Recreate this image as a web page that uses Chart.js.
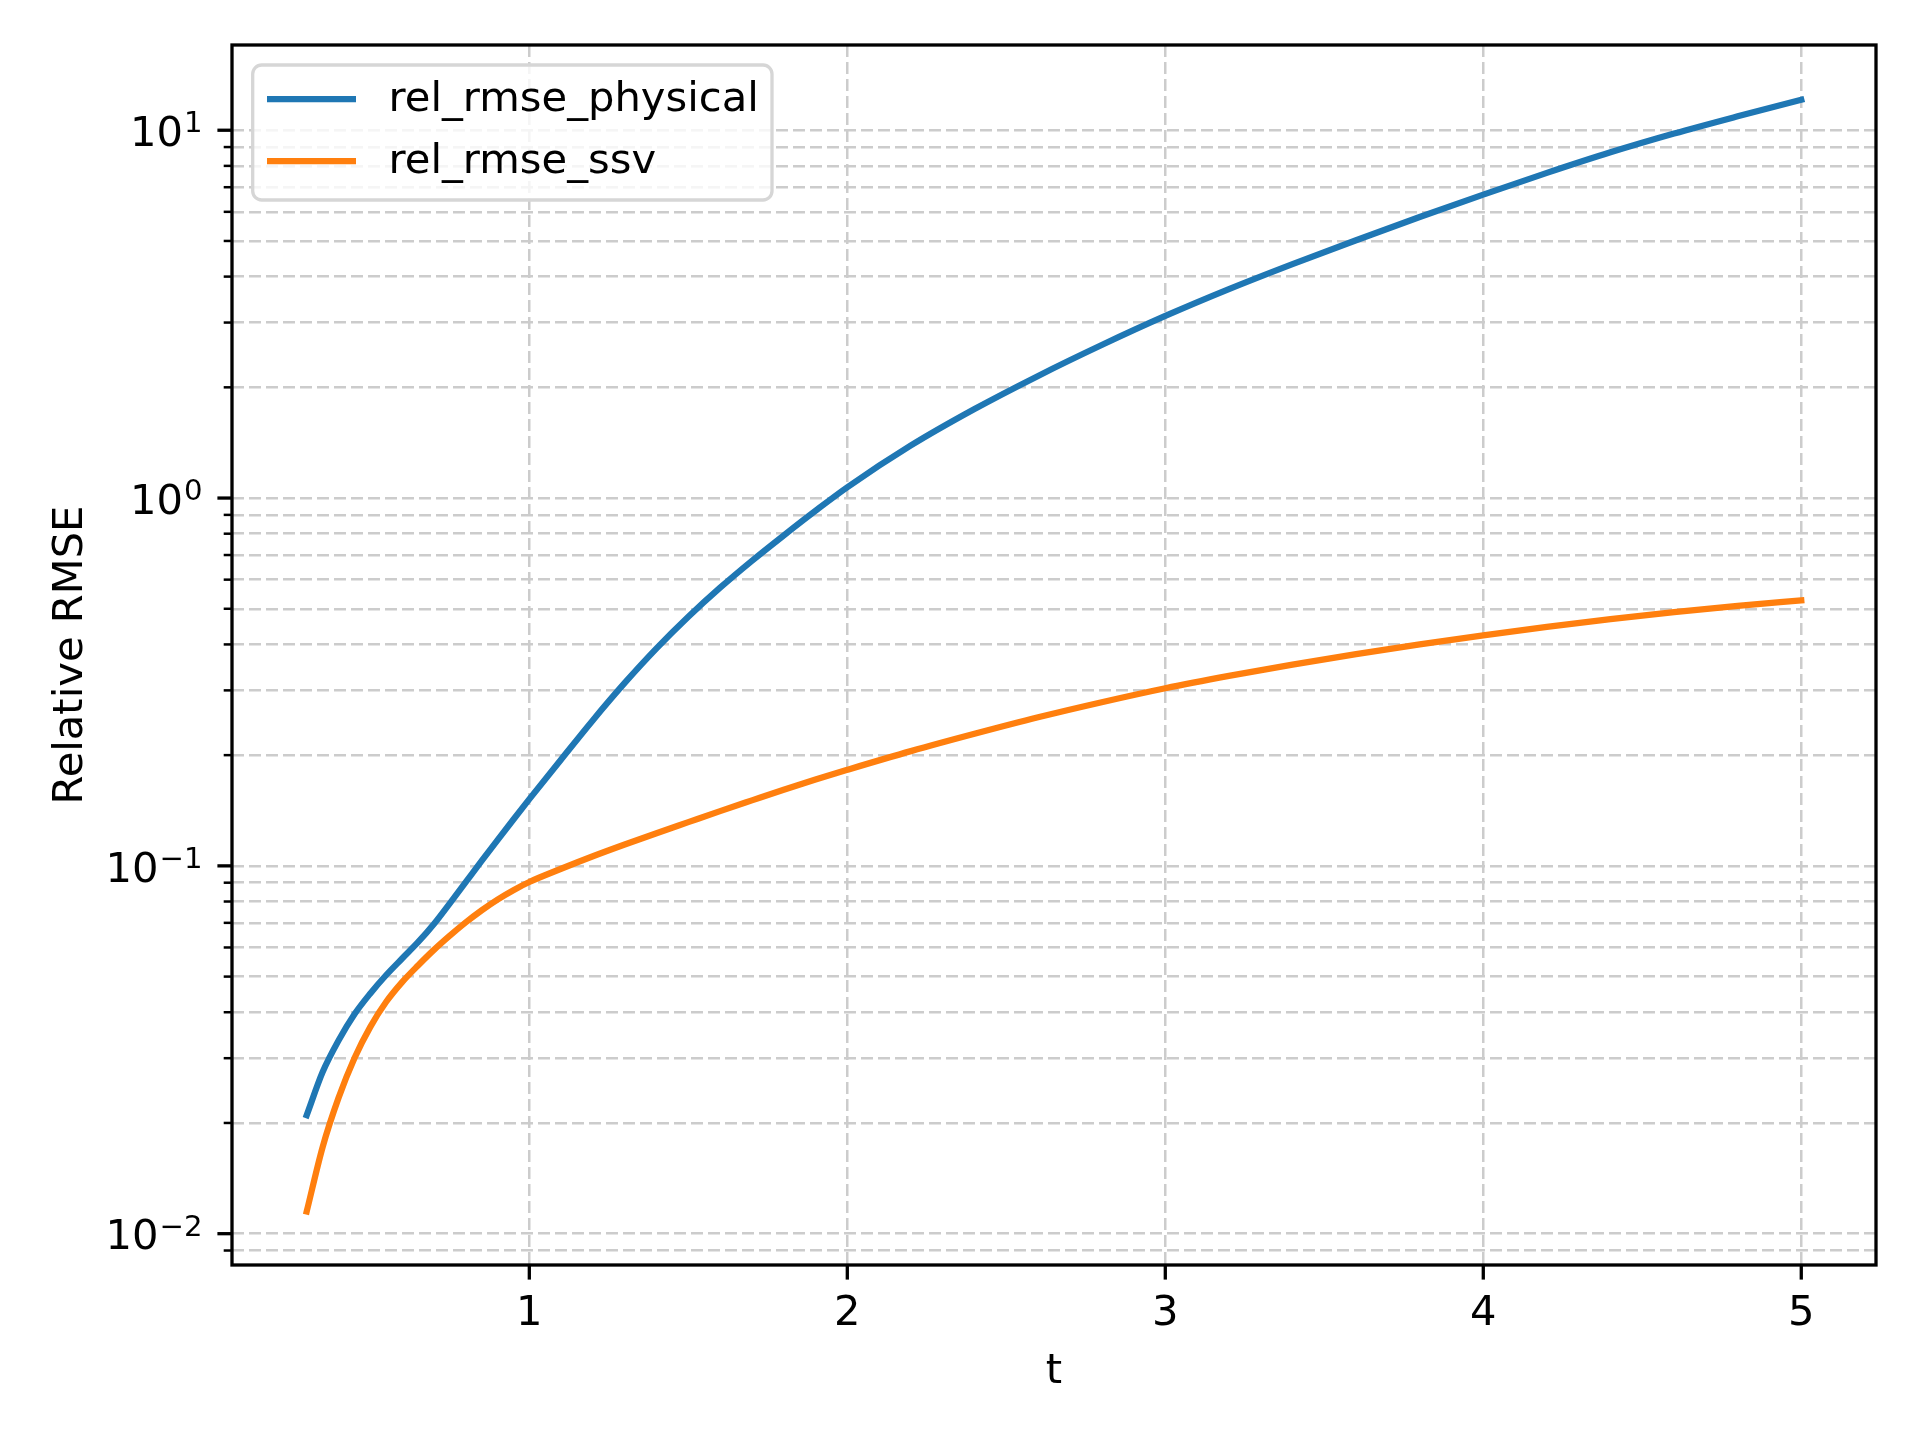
<!DOCTYPE html>
<html>
<head>
<meta charset="utf-8">
<script src="https://cdn.jsdelivr.net/npm/chart.js@4.4.1/dist/chart.umd.min.js"></script>
<style>
  html, body { margin: 0; padding: 0; background: #fff; }
  #wrap { width: 1920px; height: 1440px; }
</style>
</head>
<body>
<div id="wrap"><canvas id="rmseChart" width="1920" height="1440"></canvas></div>
<script>
// values
const tValues = [0.30, 0.35, 0.40, 0.45, 0.50, 0.55, 0.60, 0.65, 0.70, 0.75, 0.80, 0.85, 0.90, 0.95,
  1.00, 1.10, 1.20, 1.30, 1.40, 1.50, 1.60, 1.70, 1.80, 1.90, 2.00,
  2.20, 2.40, 2.60, 2.80, 3.00, 3.20, 3.40, 3.60, 3.80, 4.00, 4.20, 4.40, 4.60, 4.80, 5.00];
const relRmsePhysical = [0.0210, 0.0275, 0.0335, 0.0395, 0.0450, 0.0505, 0.0560, 0.0620, 0.0695, 0.0791, 0.0903, 0.1031, 0.1175, 0.1337,
  0.1518, 0.1947, 0.2490, 0.3143, 0.3902, 0.4756, 0.5706, 0.6751, 0.7913, 0.9233, 1.070,
  1.390, 1.746, 2.148, 2.606, 3.126, 3.698, 4.325, 5.023, 5.808, 6.683, 7.656, 8.710, 9.795, 10.91, 12.10];
const relRmseSsv = [0.0115, 0.0172, 0.0234, 0.0300, 0.0365, 0.0427, 0.0483, 0.0536, 0.0591, 0.0646, 0.0702, 0.0757, 0.0810, 0.0859,
  0.0904, 0.0982, 0.1062, 0.1143, 0.1227, 0.1315, 0.1409, 0.1507, 0.1611, 0.1718, 0.1825,
  0.2051, 0.2286, 0.2535, 0.2786, 0.3041, 0.3285, 0.3526, 0.3764, 0.4000, 0.4232, 0.4462, 0.4685, 0.4894, 0.5090, 0.5268];
const seriesNames = ['rel_rmse_physical', 'rel_rmse_ssv'];
const xTicks = [1, 2, 3, 4, 5];
const yMajorTicks = [0.01, 0.1, 1, 10];
const yMajorExponents = ['\u22122', '\u22121', '0', '1'];
const yMinorTicks = [0.009, 0.02, 0.03, 0.04, 0.05, 0.06, 0.07, 0.08, 0.09,
  0.2, 0.3, 0.4, 0.5, 0.6, 0.7, 0.8, 0.9, 2, 3, 4, 5, 6, 7, 8, 9];

const FONT = "'DejaVu Sans', 'Liberation Sans', sans-serif";
const FS = 41.67;
const COLORS = ['#1f77b4', '#ff7f0e'];
const GRID = '#cccccc';

const toPoints = ys => tValues.map((t, i) => ({ x: t, y: ys[i] }));

const axesDecor = {
  id: 'axesDecor',
  afterDraw(chart) {
    const c = chart.ctx;
    const ca = chart.chartArea;
    const xs = chart.scales.x, ys = chart.scales.y;
    c.save();
    // frame
    c.strokeStyle = '#000';
    c.lineWidth = 3.3;
    c.strokeRect(ca.left, ca.top, ca.right - ca.left, ca.bottom - ca.top);

    const tick = (x1, y1, x2, y2, w) => {
      c.lineWidth = w;
      c.beginPath(); c.moveTo(x1, y1); c.lineTo(x2, y2); c.stroke();
    };

    // x ticks + labels
    c.fillStyle = '#000';
    c.font = `${FS}px ${FONT}`;
    c.textAlign = 'center';
    c.textBaseline = 'alphabetic';
    xTicks.forEach(v => {
      const px = xs.getPixelForValue(v);
      tick(px, ca.bottom, px, ca.bottom + 14.6, 3.3);
      c.fillText(String(v), px, ca.bottom + 60);
    });

    // y minor ticks
    yMinorTicks.forEach(v => {
      const py = ys.getPixelForValue(v);
      if (py < ca.top || py > ca.bottom) return;
      tick(ca.left - 8.3, py, ca.left, py, 2.5);
    });
    // y major ticks + 10^n labels
    const right = ca.left - 29.5;
    yMajorTicks.forEach((v, i) => {
      const py = ys.getPixelForValue(v);
      tick(ca.left - 14.6, py, ca.left, py, 3.3);
      c.textAlign = 'right';
      c.font = `${FS * 0.7}px ${FONT}`;
      const sup = yMajorExponents[i];
      const supW = c.measureText(sup).width;
      c.fillText(sup, right, py + 2);
      c.font = `${FS}px ${FONT}`;
      c.fillText('10', right - supW - 1, py + 15.7);
    });

    // axis titles
    c.textAlign = 'center';
    c.font = `${FS}px ${FONT}`;
    c.fillText('t', (ca.left + ca.right) / 2, 1382.7);
    c.save();
    c.translate(81.7, (ca.top + ca.bottom) / 2);
    c.rotate(-Math.PI / 2);
    c.fillText('Relative RMSE', 0, 0);
    c.restore();

    // legend
    const lx = 252.7, ly = 65, lw = 519.3, lh = 135, r = 9;
    c.beginPath();
    c.moveTo(lx + r, ly);
    c.arcTo(lx + lw, ly, lx + lw, ly + lh, r);
    c.arcTo(lx + lw, ly + lh, lx, ly + lh, r);
    c.arcTo(lx, ly + lh, lx, ly, r);
    c.arcTo(lx, ly, lx + lw, ly, r);
    c.closePath();
    c.fillStyle = 'rgba(255,255,255,0.8)';
    c.fill();
    c.strokeStyle = '#d6d6d6';
    c.lineWidth = 3.3;
    c.stroke();
    c.textAlign = 'left';
    c.textBaseline = 'middle';
    seriesNames.forEach((name, i) => {
      const yy = 99 + i * 62;
      c.strokeStyle = COLORS[i];
      c.lineWidth = 6.25;
      c.lineCap = 'butt';
      c.beginPath(); c.moveTo(267, yy); c.lineTo(356, yy); c.stroke();
      c.fillStyle = '#000';
      c.fillText(name, 388.6, yy + 1);
    });
    c.restore();
  }
};

new Chart(document.getElementById('rmseChart'), {
  type: 'line',
  data: {
    datasets: [
      { label: seriesNames[0], data: toPoints(relRmsePhysical), borderColor: COLORS[0] },
      { label: seriesNames[1], data: toPoints(relRmseSsv), borderColor: COLORS[1] }
    ].map(d => Object.assign(d, {
      borderWidth: 6.25,
      pointRadius: 0,
      fill: false,
      cubicInterpolationMode: 'monotone',
      borderCapStyle: 'square',
      borderJoinStyle: 'round'
    }))
  },
  options: {
    responsive: false,
    animation: false,
    devicePixelRatio: 1,
    layout: { padding: { left: 232, top: 45, right: 44, bottom: 175 } },
    plugins: { legend: { display: false }, tooltip: { enabled: false } },
    scales: {
      x: {
        type: 'linear',
        min: 0.065,
        max: 5.235,
        afterBuildTicks: s => { s.ticks = xTicks.map(v => ({ value: v })); },
        ticks: { display: false },
        grid: { color: GRID, lineWidth: 2.5, drawTicks: false, tickLength: 0 },
        border: { display: false, dash: [12, 5] }
      },
      y: {
        type: 'logarithmic',
        min: 0.00822,
        max: 17.05,
        afterBuildTicks: s => {
          s.ticks = yMinorTicks.concat(yMajorTicks).sort((a, b) => a - b).map(v => ({ value: v }));
        },
        ticks: { display: false },
        grid: { color: GRID, lineWidth: 2.5, drawTicks: false, tickLength: 0 },
        border: { display: false, dash: [12, 5] }
      }
    }
  },
  plugins: [axesDecor]
});
</script>
</body>
</html>
